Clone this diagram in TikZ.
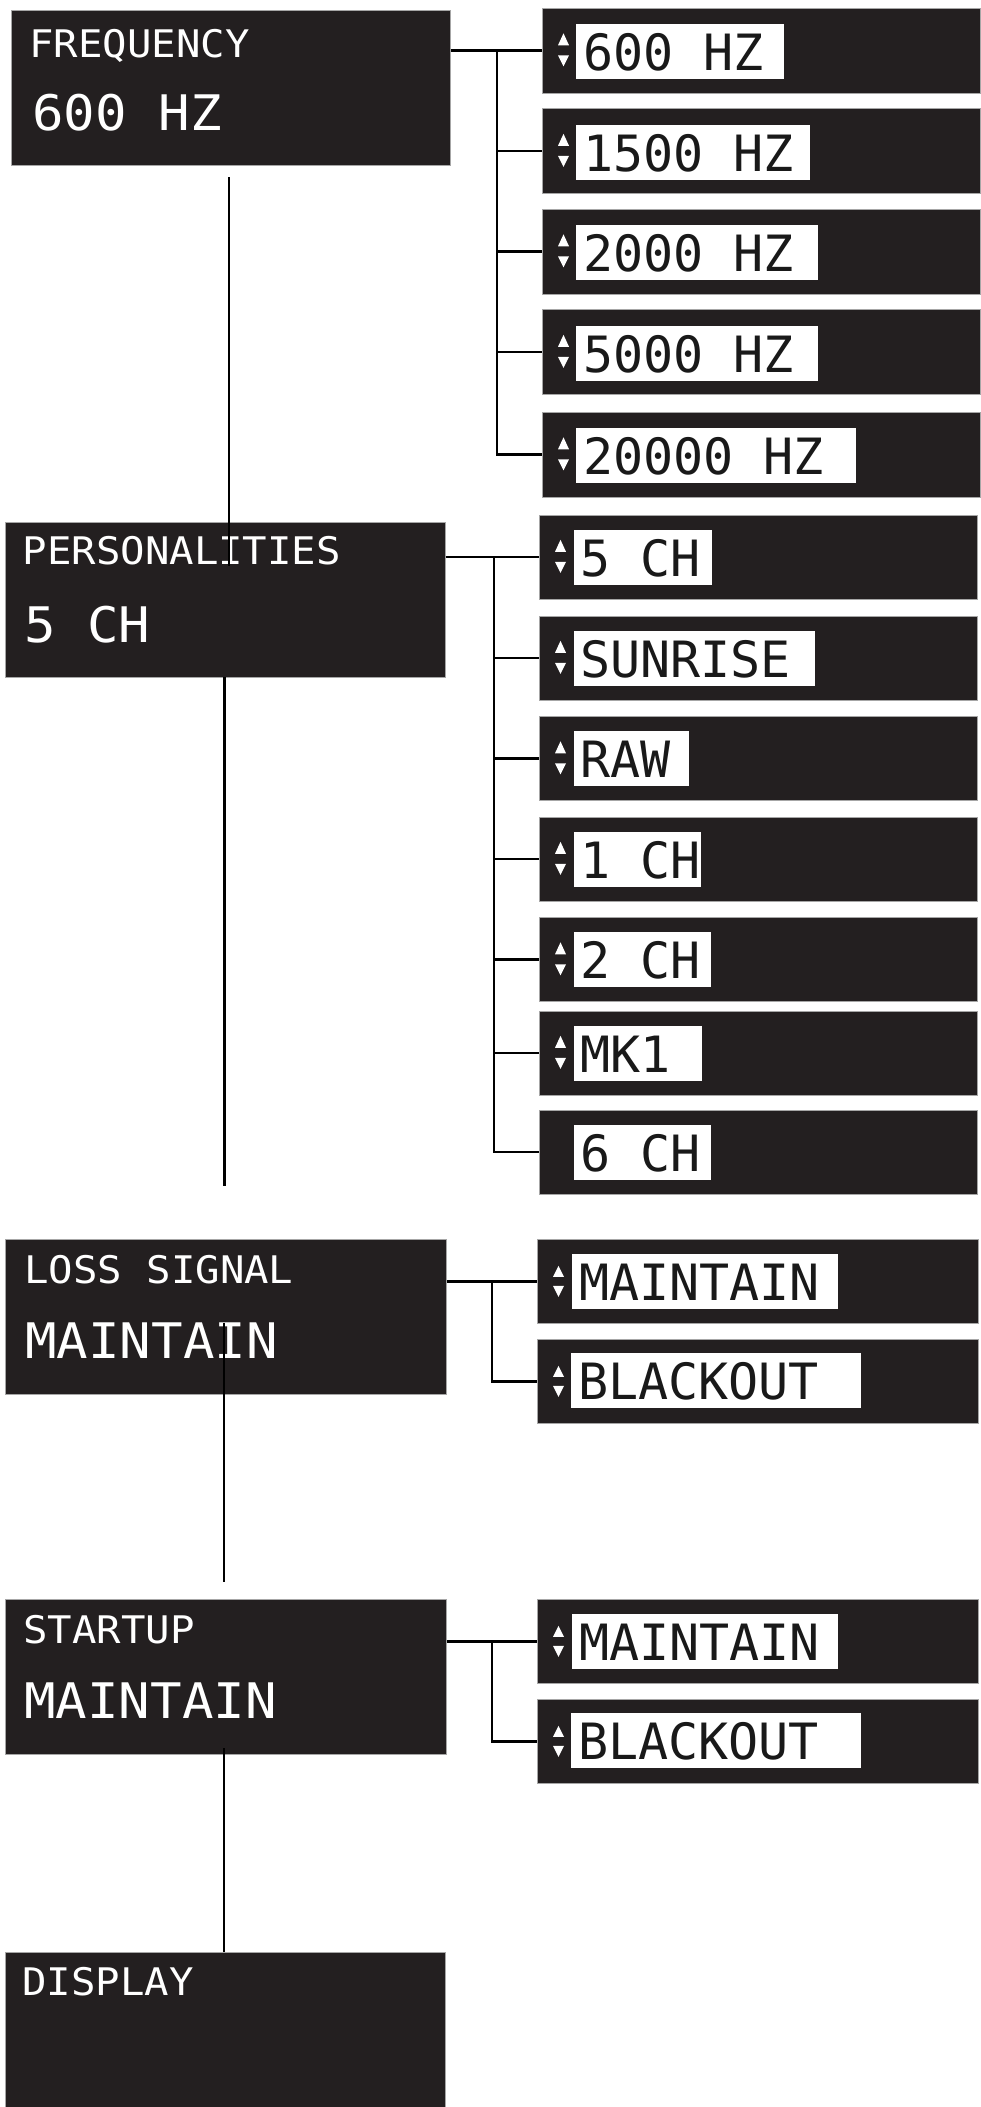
\documentclass[tikz,border=0pt]{standalone}
\usepackage{fontspec}
\newfontfamily\lcd[FakeStretch=1.07]{DejaVu Sans Mono}
\newfontfamily\lcdi{DejaVu Sans Mono}
\definecolor{panel}{HTML}{231F20}
\begin{document}
\begin{tikzpicture}[x=1pt,y=-1pt,
  mainbox/.style={fill=panel, draw=black!35, line width=0.6pt, inner sep=0, anchor=north west, minimum height=155},
  itembox/.style={fill=panel, draw=black!35, line width=0.6pt, inner sep=0, anchor=north west},
  lbl/.style={fill=white, inner sep=0, anchor=north west, minimum height=55},
  ttl/.style={text=white, font=\lcd\fontsize{38}{38}\selectfont, anchor=base west, inner sep=0},
  val/.style={text=white, font=\lcd\fontsize{49}{49}\selectfont, anchor=base west, inner sep=0},
  itxt/.style={text=black!90, font=\lcdi\fontsize{50}{50}\selectfont, anchor=base west, inner sep=0},
  conn/.style={line width=2.4pt, black},
  tri/.style={fill=white}]

\useasboundingbox (0,0) rectangle (981,2107);

% ---------- main panels ----------
\node[mainbox, minimum width=439] (freq) at (11,10) {};
\node[ttl] (freqT) at (29,57.5) {FREQUENCY};
\node[val] (freqV) at (32,130) {600 HZ};

\node[mainbox, minimum width=440, minimum height=155.5] (pers) at (5,521.5) {};
\node[ttl] (persT) at (22.5,564) {PERSONALITIES};
\node[val] (persV) at (24,642) {5 CH};

\node[mainbox, minimum width=441] (loss) at (5,1239) {};
\node[ttl] (lossT) at (24,1283) {LOSS SIGNAL};
\node[val] (lossV) at (25,1358) {MAINTAIN};

\node[mainbox, minimum width=441] (start) at (5,1599) {};
\node[ttl] (startT) at (23,1643) {STARTUP};
\node[val] (startV) at (24,1718) {MAINTAIN};

\node[mainbox, minimum width=440] (disp) at (5,1952) {};
\node[ttl] (dispT) at (22,1995) {DISPLAY};

% ---------- frequency items ----------
\foreach \i/\y/\w/\t in {1/7.5/208/600 HZ, 2/108/234/1500 HZ, 3/208.5/242/2000 HZ, 4/309/242/5000 HZ, 5/411.5/280/20000 HZ}{
  \node[itembox, minimum width=438, minimum height=85] (f\i) at (542,\y) {};
  \node[lbl, minimum width=\w] (fl\i) at (576,\y+16.5) {};
  \node[itxt] (ft\i) at (583,\y+63) {\t};
  \fill[tri] (f\i.west) ++(16,-5) -- ++(11,0) -- ++(-5.5,-12) -- cycle;
  \fill[tri] (f\i.west) ++(16,5) -- ++(11,0) -- ++(-5.5,11) -- cycle;
}

% ---------- personality items ----------
\foreach \i/\y/\w/\t in {1/514.5/138/5 CH, 2/615.5/240.5/SUNRISE, 3/716/115/RAW, 4/816.5/126.5/1 CH, 5/917/137/2 CH, 6/1010.5/128/MK1, 7/1109.5/137/6 CH}{
  \node[itembox, minimum width=438, minimum height=84] (p\i) at (539,\y) {};
  \node[lbl, minimum width=\w] (pl\i) at (574,\y+15) {};
  \node[itxt] (pt\i) at (580,\y+61.5) {\t};
}
\foreach \i in {1,...,6}{
  \fill[tri] (p\i.west) ++(16,-5) -- ++(11,0) -- ++(-5.5,-12) -- cycle;
  \fill[tri] (p\i.west) ++(16,5) -- ++(11,0) -- ++(-5.5,11) -- cycle;
}

% ---------- loss signal / startup items ----------
\foreach \n/\ya/\yb in {l/1239/1339, s/1599/1699}{
  \node[itembox, minimum width=441, minimum height=84] (\n1) at (537,\ya) {};
  \node[lbl, minimum width=266] (\n l1) at (572,\ya+14.5) {};
  \node[itxt] (\n t1) at (579,\ya+61) {MAINTAIN};
  \node[itembox, minimum width=441, minimum height=84] (\n2) at (537,\yb) {};
  \node[lbl, minimum width=290] (\n l2) at (571,\yb+13.5) {};
  \node[itxt] (\n t2) at (578,\yb+60) {BLACKOUT};
  \foreach \k in {1,2}{
    \fill[tri] (\n\k.west) ++(16,-4.5) -- ++(11,0) -- ++(-5.5,-11) -- cycle;
    \fill[tri] (\n\k.west) ++(16,4.5) -- ++(11,0) -- ++(-5.5,11) -- cycle;
  }
}

% ---------- connectors ----------
\coordinate (ftr) at (497,0);
\draw[conn] (freq.east |- f1.west) -- (f1.west);
\draw[conn] (ftr |- f1.west) |- (f5.west);
\foreach \i in {2,3,4}{\draw[conn] (ftr |- f\i.west) -- (f\i.west);}

\coordinate (ptr) at (494,0);
\draw[conn] (pers.east |- p1.west) -- (p1.west);
\draw[conn] (ptr |- p1.west) |- (p7.west);
\foreach \i in {2,...,6}{\draw[conn] (ptr |- p\i.west) -- (p\i.west);}

\coordinate (ltr) at (492,0);
\draw[conn] (loss.east |- l1.west) -- (l1.west);
\draw[conn] (ltr |- l1.west) |- (l2.west);

\coordinate (str) at (492,0);
\draw[conn] (start.east |- s1.west) -- (s1.west);
\draw[conn] (str |- s1.west) |- (s2.west);

% vertical links between panels
\coordinate (v1a) at (229,177);   \coordinate (v1b) at (229,566);
\coordinate (v2a) at (224.3,677); \coordinate (v2b) at (224.3,1186);
\coordinate (v3a) at (224,1322.7);\coordinate (v3b) at (224,1582);
\coordinate (v4a) at (224,1748);  \coordinate (v4b) at (224,1952);
\draw[conn] (v1a) -- (v1b);
\draw[conn] (v2a) -- (v2b);
\draw[conn] (v3a) -- (v3b);
\draw[conn] (v4a) -- (v4b);
\end{tikzpicture}
\end{document}
